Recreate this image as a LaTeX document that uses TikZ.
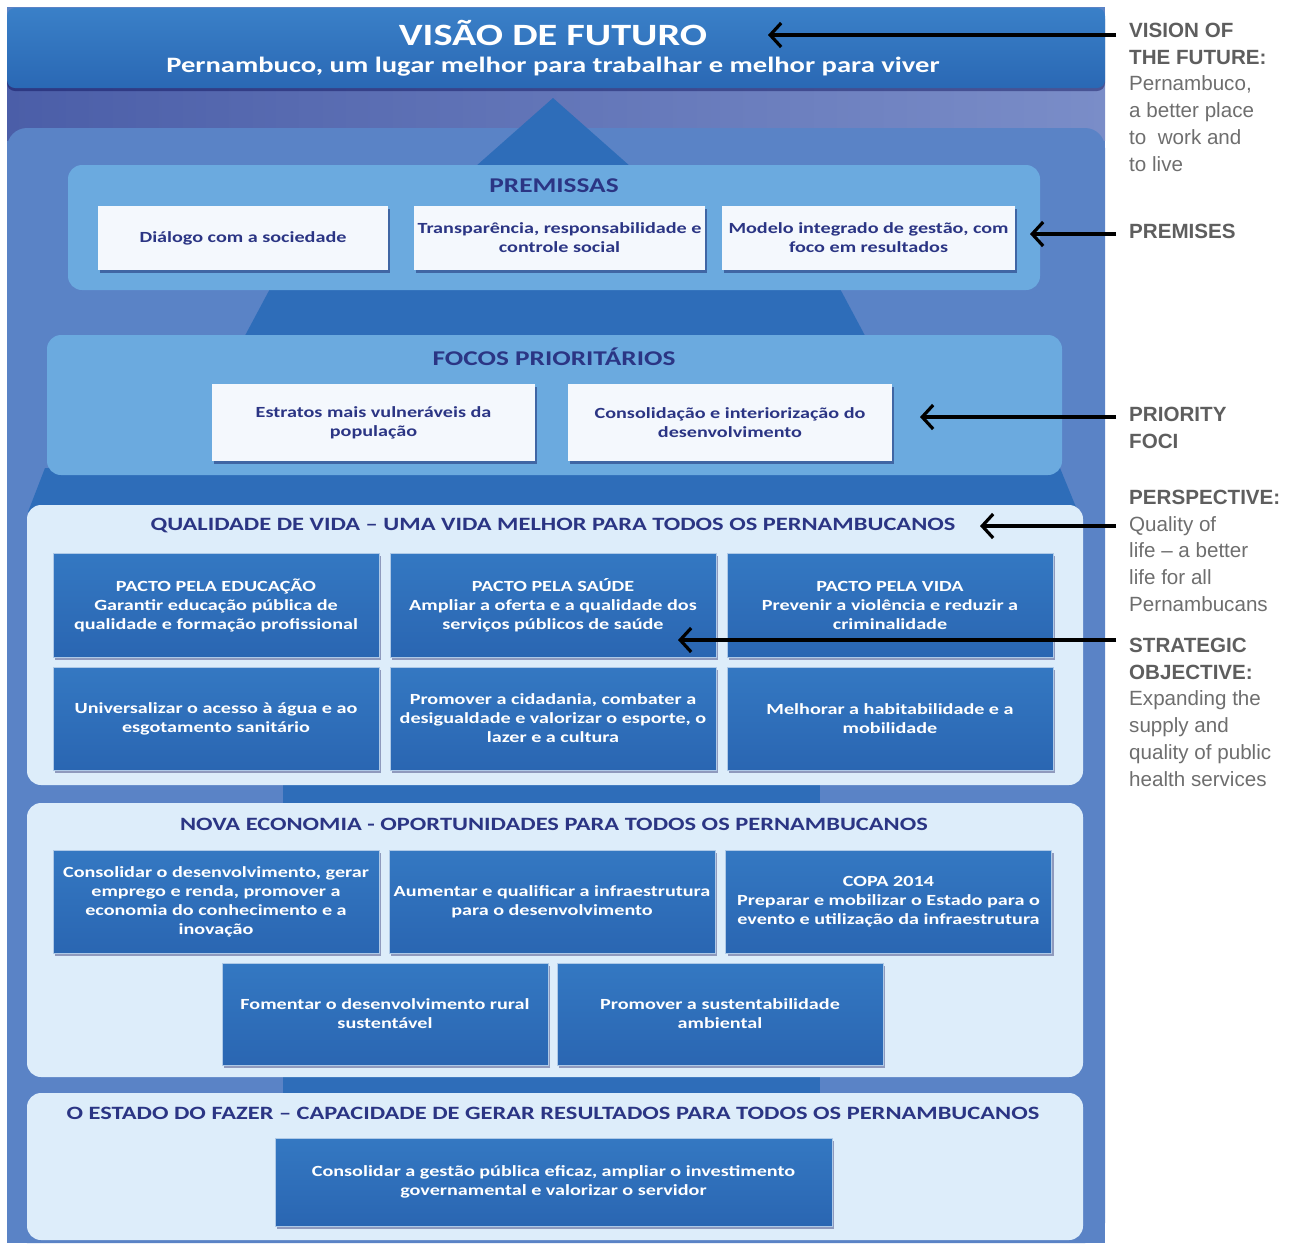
\documentclass[tikz,border=0pt]{standalone}
\usepackage{fontspec}
\setmainfont{Liberation Sans}
\newfontfamily\calfont[FakeStretch=1.3]{Carlito}
\usetikzlibrary{arrows.meta,shadows,calc}
\definecolor{bgblue}{HTML}{5A83C6}
\definecolor{bgdark}{HTML}{4B5EA8}
\definecolor{bglight}{HTML}{7A8DC8}
\definecolor{hdrtop}{HTML}{3A80C8}
\definecolor{hdrbot}{HTML}{2A68B4}
\definecolor{pyr}{HTML}{2E6DB9}
\definecolor{panelA}{HTML}{6BAADF}
\definecolor{panelL}{HTML}{DDEDFA}
\definecolor{boxtop}{HTML}{3478C2}
\definecolor{boxbot}{HTML}{2A66B2}
\definecolor{navy}{HTML}{2B3584}
\definecolor{wbox}{HTML}{F4F8FD}
\definecolor{annot}{HTML}{5E5E5E}
\definecolor{annotlight}{HTML}{6E6E6E}
\tikzset{
  panel/.style={draw=none, rounded corners=14pt, inner sep=0pt},
  sectitle/.style={font=\calfont\bfseries\fontsize{18.8}{21}\selectfont, text=navy, inner sep=0pt},
  whitebox/.style={fill=wbox, draw=none, inner sep=0pt, align=center, text=navy,
    font=\calfont\bfseries\fontsize{15.5}{19}\selectfont,
    drop shadow={shadow xshift=2pt, shadow yshift=-3pt, fill=black!70!blue, opacity=.4}},
  bluebox/.style={top color=boxtop, bottom color=boxbot, draw=white!60!boxtop, line width=.8pt,
    inner sep=0pt, align=center, text=white,
    font=\calfont\bfseries\fontsize{15.5}{19}\selectfont,
    drop shadow={shadow xshift=2pt, shadow yshift=-3pt, fill=black!70!blue, opacity=.35}},
  annotnode/.style={font=\fontsize{20.6}{26.7}\selectfont, text=annotlight, inner sep=0pt, anchor=base west},
  pointer/.style={line width=3.2pt, -{Straight Barb[length=11pt,width=24pt]}},
}
\begin{document}
\begin{tikzpicture}[x=1pt,y=-1pt]
\useasboundingbox (0,0) rectangle (1289,1243);
% background
\fill[bgblue] (7,7) rectangle (1105,1243);
\shade[left color=bgdark, right color=bglight] (7,80) rectangle (1105,140);
\fill[bgblue, rounded corners=20pt] (7,128) rectangle (1105,1243);
% pyramid
\fill[pyr] (553,98) -- (648,182) -- (458,182) -- cycle;
\fill[pyr] (272,285) -- (838,285) -- (870,345) -- (240,345) -- cycle;
\fill[pyr] (45,468) -- (1060,468) -- (1078,512) -- (28,512) -- cycle;
\fill[pyr] (283,500) rectangle (820,1100);
% header
\node[panel, rounded corners=8pt, top color=hdrtop, bottom color=hdrbot, minimum width=1098pt, minimum height=80pt,
  drop shadow={shadow xshift=0pt, shadow yshift=-3pt, fill=black!70!blue, opacity=.4}] (header) at (556,48) {};
\node[font=\calfont\bfseries\fontsize{31}{34}\selectfont, text=white, inner sep=0pt] (vtitle) at (553,33) {VISÃO DE FUTURO};
\node[font=\calfont\bfseries\fontsize{22}{24}\selectfont, text=white, inner sep=0pt] (vsub) at (553,67) {Pernambuco, um lugar melhor para trabalhar e melhor para viver};
% panels
\node[panel, fill=panelA, minimum width=972pt, minimum height=125pt] (premP) at (554,227.5) {};
\node[panel, fill=panelA, minimum width=1015pt, minimum height=140pt] (focP) at (554.5,405) {};
\node[panel, fill=panelL, minimum width=1056pt, minimum height=280pt] (qualP) at (555,645) {};
\node[panel, fill=panelL, minimum width=1056pt, minimum height=274pt] (novaP) at (555,940) {};
\node[panel, fill=panelL, minimum width=1056pt, minimum height=147pt] (estP) at (555,1166.5) {};
% section titles
\node[sectitle, font=\calfont\bfseries\fontsize{21}{23}\selectfont] (premT) at (554,186) {PREMISSAS};
\node[sectitle, font=\calfont\bfseries\fontsize{21}{23}\selectfont] (focT) at (554,357) {FOCOS PRIORITÁRIOS};
\node[sectitle] (qualT) at (553,526) {QUALIDADE DE VIDA – UMA VIDA MELHOR PARA TODOS OS PERNAMBUCANOS};
\node[sectitle] (novaT) at (554,824) {NOVA ECONOMIA - OPORTUNIDADES PARA TODOS OS PERNAMBUCANOS};
\node[sectitle] (estT) at (553,1113) {O ESTADO DO FAZER – CAPACIDADE DE GERAR RESULTADOS PARA TODOS OS PERNAMBUCANOS};
% premissas
\node[whitebox, minimum width=290pt, minimum height=64pt] (p1) at (243,238) {Diálogo com a sociedade};
\node[whitebox, minimum width=291pt, minimum height=64pt] (p2) at (559.5,238) {Transparência, responsabilidade e\\controle social};
\node[whitebox, minimum width=293pt, minimum height=64pt] (p3) at (868.5,238) {Modelo integrado de gestão, com\\foco em resultados};
% focos
\node[whitebox, minimum width=323pt, minimum height=77pt] (f1) at (373.5,422.5) {Estratos mais vulneráveis da\\população};
\node[whitebox, minimum width=324pt, minimum height=77pt] (f2) at (730,422.5) {Consolidação e interiorização do\\desenvolvimento};
% qualidade de vida
\node[bluebox, minimum width=326pt, minimum height=104pt] (q1) at (216,605) {PACTO PELA EDUCAÇÃO\\Garantir educação pública de\\qualidade e formação profissional};
\node[bluebox, minimum width=326pt, minimum height=104pt] (q2) at (553,605) {PACTO PELA SAÚDE\\Ampliar a oferta e a qualidade dos\\serviços públicos de saúde};
\node[bluebox, minimum width=326pt, minimum height=104pt] (q3) at (890,605) {PACTO PELA VIDA\\Prevenir a violência e reduzir a\\criminalidade};
\node[bluebox, minimum width=326pt, minimum height=103pt] (q4) at (216,718.5) {Universalizar o acesso à água e ao\\esgotamento sanitário};
\node[bluebox, minimum width=326pt, minimum height=103pt] (q5) at (553,718.5) {Promover a cidadania, combater a\\desigualdade e valorizar o esporte, o\\lazer e a cultura};
\node[bluebox, minimum width=326pt, minimum height=103pt] (q6) at (890,718.5) {Melhorar a habitabilidade e a\\mobilidade};
% nova economia
\node[bluebox, minimum width=326pt, minimum height=103pt] (n1) at (216,901.5) {Consolidar o desenvolvimento, gerar\\emprego e renda, promover a\\economia do conhecimento e a\\inovação};
\node[bluebox, minimum width=326pt, minimum height=103pt] (n2) at (552,901.5) {Aumentar e qualificar a infraestrutura\\para o desenvolvimento};
\node[bluebox, minimum width=326pt, minimum height=103pt] (n3) at (888.5,901.5) {COPA 2014\\Preparar e mobilizar o Estado para o\\evento e utilização da infraestrutura};
\node[bluebox, minimum width=326pt, minimum height=102pt] (n4) at (385,1014) {Fomentar o desenvolvimento rural\\sustentável};
\node[bluebox, minimum width=326pt, minimum height=102pt] (n5) at (720,1014) {Promover a sustentabilidade\\ambiental};
% estado do fazer
\node[bluebox, minimum width=557pt, minimum height=88pt] (e1) at (553.5,1182) {Consolidar a gestão pública eficaz, ampliar o investimento\\governamental e valorizar o servidor};
% annotations
\node[annotnode] (aVision) at (1129,37.5) {\begin{tabular}[t]{@{}l@{}}\textcolor{annot}{\textbf{VISION OF}}\\\textcolor{annot}{\textbf{THE FUTURE:}}\\Pernambuco,\\a better place\\to\ \ work and\\to live\end{tabular}};
\node[annotnode] (aPrem) at (1129,238.5) {\textcolor{annot}{\textbf{PREMISES}}};
\node[annotnode] (aFoci) at (1129,421.5) {\begin{tabular}[t]{@{}l@{}}\textcolor{annot}{\textbf{PRIORITY}}\\\textcolor{annot}{\textbf{FOCI}}\end{tabular}};
\node[annotnode] (aPersp) at (1129,504.5) {\begin{tabular}[t]{@{}l@{}}\textcolor{annot}{\textbf{PERSPECTIVE:}}\\Quality of\\life – a better\\life for all\\Pernambucans\end{tabular}};
\node[annotnode] (aStrat) at (1129,652.5) {\begin{tabular}[t]{@{}l@{}}\textcolor{annot}{\textbf{STRATEGIC}}\\\textcolor{annot}{\textbf{OBJECTIVE:}}\\Expanding the\\supply and\\quality of public\\health services\end{tabular}};
% arrow ends
\coordinate (s1) at (1116,35);  \coordinate (t1) at (768,35);
\coordinate (s2) at (1116,234); \coordinate (t2) at (1030,234);
\coordinate (s3) at (1116,417); \coordinate (t3) at (920,417);
\coordinate (s4) at (1116,526); \coordinate (t4) at (980,526);
\coordinate (s5) at (1116,640); \coordinate (t5) at (678,640);
\draw[pointer] (s1) -- (t1);
\draw[pointer] (s2) -- (t2);
\draw[pointer] (s3) -- (t3);
\draw[pointer] (s4) -- (t4);
\draw[pointer] (s5) -- (t5);
\end{tikzpicture}
\end{document}
